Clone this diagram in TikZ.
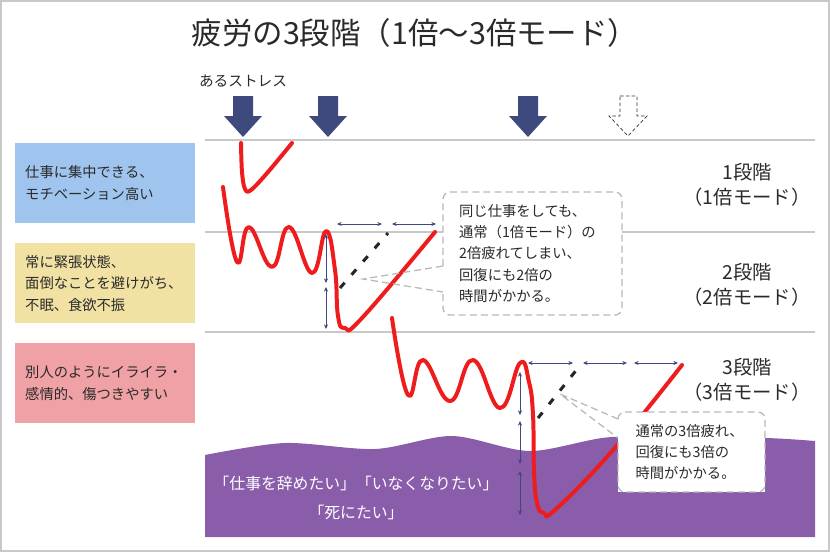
\documentclass[tikz,border=0pt]{standalone}
\usepackage{fontspec}
\setmainfont{Noto Sans CJK JP}
\usetikzlibrary{arrows.meta,calc}

\definecolor{txtgray}{HTML}{2A2A2A}
\definecolor{sepgray}{HTML}{C8C8C8}
\definecolor{stressblue}{HTML}{3E4A7E}
\definecolor{stageone}{HTML}{9FC5EE}
\definecolor{stagetwo}{HTML}{F1E2A4}
\definecolor{stagethree}{HTML}{F0A1A5}
\definecolor{burnout}{HTML}{8A5DAB}
\definecolor{fatigue}{HTML}{EE1C1C}

\tikzset{
  statebox/.style={anchor=north west,minimum width=5.4cm,minimum height=2.4cm,
    text width=4.8cm,inner xsep=0.3cm,inner ysep=0pt,align=left,text=txtgray,
    font=\fontsize{12.2}{18.5}\selectfont},
  stagelabel/.style={align=center,text=txtgray,font=\fontsize{16.5}{21.5}\selectfont},
  notebox/.style={anchor=north west,fill=white,outer sep=0pt,inner ysep=0pt,
    align=left,text=txtgray,font=\fontsize{12.2}{18.3}\selectfont},
  noteline/.style={gray!55,line width=1.1pt,dash pattern=on 6pt off 3.5pt},
  fatiguecurve/.style={fatigue,line width=3.4pt,line cap=round,line join=round},
  normalline/.style={black!85,line width=2.6pt,dash pattern=on 6pt off 9pt},
  dimarrow/.style={stressblue,line width=0.6pt,<->},
  sepline/.style={sepgray,line width=2.5pt},
  wish/.style={text=white,font=\fontsize{13.5}{15}\selectfont},
}

\begin{document}
\begin{tikzpicture}[x=0.03cm,y=-0.03cm,>={Stealth[length=4pt,width=3.5pt]}]
    \useasboundingbox (0,0) rectangle (830,552);
    \draw[sepgray,line width=1.5pt] (1,1) rectangle (829,551);

    % タイトルとストレス
    \node[text=txtgray,font=\fontsize{26}{30}\selectfont] (title) at (415,33)
        {疲労の3段階（1倍～3倍モード）};
    \node[text=txtgray,font=\fontsize{12.5}{14}\selectfont] (stress) at (243,81)
        {あるストレス};
    \foreach \ax in {243,328,528}{
        \fill[stressblue] (\ax-10,96) -- (\ax+10,96) -- (\ax+10,116) -- (\ax+19,116)
            -- (\ax,137) -- (\ax-19,116) -- (\ax-10,116) -- cycle;
    }
    \draw[black!80,densely dashed,line width=0.6pt] (620,96) -- (637,96) -- (637,116)
        -- (647,116) -- (628,136) -- (609,116) -- (620,116) -- cycle;

    % 区切り線
    \foreach \yy in {140,232,332}{
        \draw[sepline] (205,\yy) -- (815,\yy);
    }

    % 左の状態の説明
    \node[statebox,fill=stageone] (s1) at (15,143) {仕事に集中できる、\\モチベーション高い};
    \node[statebox,fill=stagetwo] (s2) at (15,243) {常に緊張状態、\\面倒なことを避けがち、\\不眠、食欲不振};
    \node[statebox,fill=stagethree] (s3) at (15,343) {別人のようにイライラ・\\感情的、傷つきやすい};

    % 右の段階の名前
    \node[stagelabel] (m1) at (747,185) {1段階\\（1倍モード）};
    \node[stagelabel] (m2) at (747,285) {2段階\\（2倍モード）};
    \node[stagelabel] (m3) at (747,380) {3段階\\（3倍モード）};

    % 紫の領域
    \fill[burnout] plot[smooth] coordinates {(205,455) (285,443) (375,449) (452,436)
        (530,451) (612,437) (700,443) (760,438) (815,441)}
        -- (815,537) -- (205,537) -- cycle;
    \node[wish] (w1) at (356,483) {「仕事を辞めたい」「いなくなりたい」};
    \node[wish] (w2) at (356,512) {「死にたい」};

    % 通常の回復
    \draw[normalline] (340,288) -- (388,233);
    \draw[normalline] (538,418) -- (578,368);

    % 疲労の曲線
    \draw[fatiguecurve] plot[smooth,tension=0.6] coordinates {(241,143) (242,172)
        (245,189) (251,190) (268,172) (292,143)};
    \draw[fatiguecurve] plot[smooth,tension=0.75] coordinates {(223,187) (237,262)
        (249,227) (272,267) (289,227) (312,273) (326,231) (335,270) (338,316)
        (345,328) (362,318) (435,232)};
    \draw[fatiguecurve] plot[smooth,tension=0.75] coordinates {(392,318) (408,395)
        (423,360) (450,401) (473,360) (500,408) (520,363) (529,382) (533,415)
        (534,470) (537,503) (544,513) (556,509) (613,450) (682,365)};

    % 時間の矢印
    \foreach \ya/\yb in {234/283,287/329}
        \draw[dimarrow] (326,\ya) -- (326,\yb);
    \foreach \xa/\xb in {337/382,392/436}
        \draw[dimarrow] (\xa,224) -- (\xb,224);
    \foreach \ya/\yb in {372/415,421/464,471/515}
        \draw[dimarrow] (520,\ya) -- (520,\yb);
    \foreach \xa/\xb in {528/573,583/627,634/678}
        \draw[dimarrow] (\xa,363) -- (\xb,363);

    % 吹き出し
    \node[notebox,minimum width=5.37cm,minimum height=3.69cm,text width=4.4cm,
        inner xsep=0.485cm] (n1) at (443,192)
        {同じ仕事をしても、\\通常（1倍モード）の\\2倍疲れてしまい、\\回復にも2倍の\\時間がかかる。};
    \coordinate (t1) at (363,279);
    \draw[noteline] ($(n1.north west)+(0,74)$) -- (t1) -- ($(n1.north west)+(0,100)$);
    \draw[noteline,rounded corners=6pt] ($(n1.north west)+(0,74)$) -- (n1.north west)
        -- (n1.north east) -- (n1.south east) -- (n1.south west)
        -- ($(n1.north west)+(0,100)$);

    \node[notebox,minimum width=4.41cm,minimum height=2.4cm,text width=3.36cm,
        inner xsep=0.525cm] (n2) at (618,412)
        {通常の3倍疲れ、\\回復にも3倍の\\時間がかかる。};
    \coordinate (t2) at (560,394);
    \draw[noteline] ($(n2.north west)+(0,7)$) -- (t2) -- ($(n2.north west)+(0,26)$);
    \draw[noteline,rounded corners=6pt] ($(n2.north west)+(0,7)$) -- (n2.north west)
        -- (n2.north east) -- (n2.south east) -- (n2.south west)
        -- ($(n2.north west)+(0,26)$);
\end{tikzpicture}
\end{document}
